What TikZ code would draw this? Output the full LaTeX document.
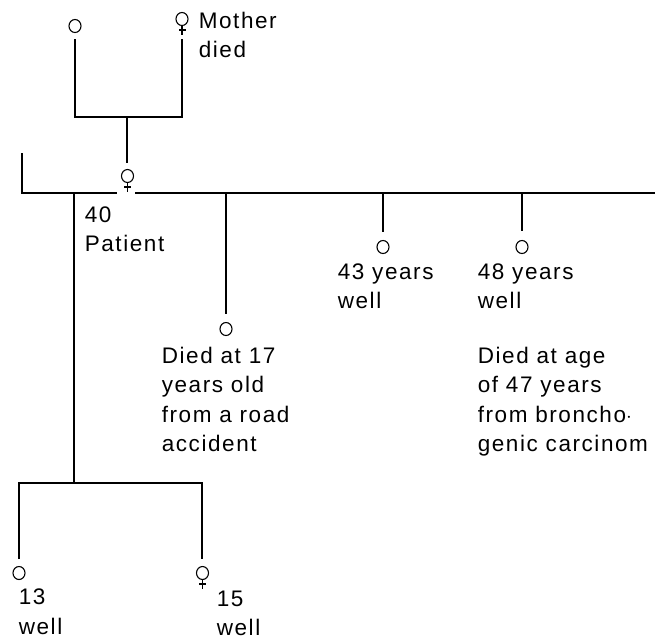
\documentclass[tikz,border=0pt]{standalone}
\usepackage{fontspec}
\setmainfont{Liberation Sans}[LetterSpace=7]
\usetikzlibrary{shapes.geometric}
\begin{document}
\begin{tikzpicture}[x=1pt,y=-1pt,
  line width=1.6pt,
  male/.style={draw,ellipse,inner sep=0pt,minimum width=12pt,minimum height=13pt,line width=1.1pt},
  fem/.style={draw,ellipse,inner sep=0pt,minimum width=12pt,minimum height=13pt,line width=1.1pt,
    append after command={[line width=1.1pt]
      (\tikzlastnode.south) edge ++(0,9)
      ([yshift=-4pt]\tikzlastnode.south) edge[-] +(-3.5,0) edge[-] +(3.5,0)}},
  lbl/.style={anchor=base west,align=left,inner sep=0pt,
    font=\fontsize{22.5pt}{29.5pt}\selectfont}]
\useasboundingbox (0,0) rectangle (671,641);
% grandparents (text nodes anchored at the baseline of their last line)
\node[male] (gf) at (75,26) {};
\node[fem] (gm) at (182,19) {};
\node[lbl] (gmt) at (198,57.5) {Mother\\died};
\coordinate (gfl) at (75,39);
\coordinate (gml) at (182,39);
\coordinate (gfc) at (75,117);
\coordinate (gmc) at (182,117);
\coordinate (gmid) at (127,117);
\coordinate (pt) at (127,163);
\draw (gfl) -- (gfc) -- (gmc) -- (gml);
\draw (gmid) -- (pt);
% patient
\node[fem] (pat) at (127.5,176) {};
\node[lbl] (patt) at (84,251.5) {40\\Patient};
% sibling line
\coordinate (lt) at (22,153);
\coordinate (lc) at (22,193);
\coordinate (lg) at (117,193);
\coordinate (rg) at (135,193);
\coordinate (re) at (655,193);
\draw (lt) -- (lc) -- (lg);
\draw (rg) -- (re);
% siblings
\coordinate (s2t) at (226,193);
\coordinate (s2b) at (226,314);
\node[male] (s2) at (226,329) {};
\node[lbl] (s2l) at (161,451.5) {Died at 17\\years old\\from a road\\accident};
\draw (s2t) -- (s2b);
\coordinate (s3t) at (383,193);
\coordinate (s3b) at (383,232);
\node[male] (s3) at (383,247) {};
\node[lbl] (s3l) at (337,308.5) {43 years\\well};
\draw (s3t) -- (s3b);
\coordinate (s4t) at (522,193);
\coordinate (s4b) at (522,231);
\node[male] (s4) at (522,247) {};
\node[lbl] (s4l) at (477,308.5) {48 years\\well};
\draw (s4t) -- (s4b);
\node[lbl] (s5l) at (477,451.5) {Died at age\\of 47 years\\from broncho$\cdot$\\genic carcinom};
% patient's children
\coordinate (pv) at (74,193);
\coordinate (pc) at (74,483);
\coordinate (c1c) at (19,483);
\coordinate (c2c) at (202,483);
\coordinate (c1b) at (19,559);
\coordinate (c2b) at (202,559);
\draw (pv) -- (pc);
\draw (c1b) -- (c1c) -- (c2c) -- (c2b);
\node[male] (c1) at (19,573) {};
\node[fem] (c2) at (202.5,573) {};
\node[lbl] (c1l) at (18,634) {13\\well};
\node[lbl] (c2l) at (216,635.5) {15\\well};
\end{tikzpicture}
\end{document}
